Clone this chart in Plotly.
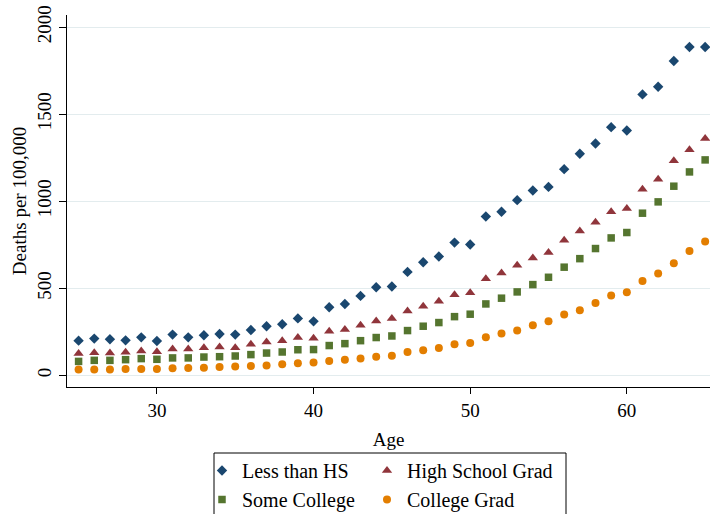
import plotly.graph_objects as go

# Mortality by age and educational attainment (deaths per 100,000)
ages = list(range(25, 66))

less_than_hs = [199, 211, 207, 201, 218, 197, 234, 218, 230, 237, 234, 260, 282, 293, 327,
                310, 391, 410, 456, 506, 510, 594, 649, 682, 762, 751, 912, 939, 1006, 1061,
                1082, 1184, 1272, 1331, 1425, 1406, 1613, 1657, 1805, 1885, 1885]
high_school = [125, 130, 128, 132, 140, 136, 151, 151, 159, 163, 159, 178, 191, 199, 217,
               213, 253, 263, 287, 312, 326, 370, 397, 425, 462, 474, 554, 588, 632, 674,
               705, 776, 829, 879, 939, 958, 1069, 1126, 1232, 1295, 1360]
some_college = [80, 86, 86, 90, 96, 92, 100, 100, 105, 107, 111, 119, 128, 134, 147,
                148, 171, 182, 199, 217, 226, 257, 282, 303, 337, 351, 410, 443, 479, 521,
                563, 621, 670, 728, 789, 820, 931, 996, 1086, 1168, 1237]
college_grad = [33, 34, 34, 36, 36, 36, 40, 42, 44, 48, 50, 54, 57, 63, 69,
                73, 82, 90, 96, 107, 113, 134, 144, 157, 178, 186, 219, 240, 257, 287,
                310, 349, 374, 416, 458, 477, 542, 584, 644, 714, 768]

x_ticks = [30, 40, 50, 60]
y_ticks = [0, 500, 1000, 1500, 2000]

W, H = 710, 514
ML, MR, MT, MB = 67, 0, 15, 127
FONT = "Liberation Serif"

NAVY, MAROON, GREEN, ORANGE = "#1a476f", "#90353b", "#55752f", "#e37e00"


def px_to_paper_x(px):
    return (px - ML) / (W - ML - MR)


def px_to_paper_y(py):
    return (H - MB - py) / (H - MT - MB)


series = [
    ("Less than HS", less_than_hs, "diamond", 8, NAVY, "legend", "g1"),
    ("High School Grad", high_school, "triangle-up", 9, MAROON, "legend2", "g2"),
    ("Some College", some_college, "square", 7.5, GREEN, "legend", "g3"),
    ("College Grad", college_grad, "circle", 8, ORANGE, "legend2", "g4"),
]

fig = go.Figure()
for name, vals, sym, size, color, leg, grp in series:
    fig.add_trace(go.Scatter(
        x=ages, y=vals, mode="markers", name=name,
        marker=dict(symbol=sym, size=size, color=color, line=dict(width=0)),
        legend=leg, legendgroup=grp,
    ))

legend_font = dict(family=FONT, size=20, color="black")
legend_common = dict(
    orientation="v", bgcolor="rgba(0,0,0,0)", borderwidth=0, tracegroupgap=0,
    itemwidth=30, xanchor="left", yanchor="top",
)

fig.update_layout(
    width=W, height=H,
    margin=dict(l=ML, r=MR, t=MT, b=MB, pad=0, autoexpand=False),
    paper_bgcolor="white", plot_bgcolor="white",
    font=dict(family=FONT, size=19, color="black"),
    showlegend=True,
    legend=dict(x=px_to_paper_x(202), y=px_to_paper_y(451), font=legend_font,
                **legend_common),
    legend2=dict(x=px_to_paper_x(367), y=px_to_paper_y(451), font=legend_font,
                 **legend_common),
    xaxis=dict(
        range=[24.26, 65.31], tickvals=x_ticks, ticks="outside", ticklen=6,
        tickcolor="black", tickwidth=1, showline=True, linecolor="black",
        linewidth=1, showgrid=False, zeroline=False,
        title=dict(text="Age", standoff=12, font=dict(family=FONT, size=19)),
        tickfont=dict(family=FONT, size=19),
    ),
    yaxis=dict(
        range=[-67, 2069], tickvals=y_ticks, ticks="outside", ticklen=7,
        tickcolor="black", tickwidth=1, showline=True, linecolor="black",
        linewidth=1, showgrid=True, gridcolor="#e3ecee", gridwidth=1,
        zeroline=False, tickangle=-90,
        title=dict(text="Deaths per 100,000", standoff=2, font=dict(family=FONT, size=19)),
        tickfont=dict(family=FONT, size=19),
    ),
    shapes=[dict(
        type="rect", xref="paper", yref="paper",
        x0=px_to_paper_x(214), x1=px_to_paper_x(566),
        y0=px_to_paper_y(453), y1=px_to_paper_y(530),
        line=dict(color="black", width=1), fillcolor="rgba(0,0,0,0)",
        layer="above",
    )],
)

fig.write_html("out.html")
